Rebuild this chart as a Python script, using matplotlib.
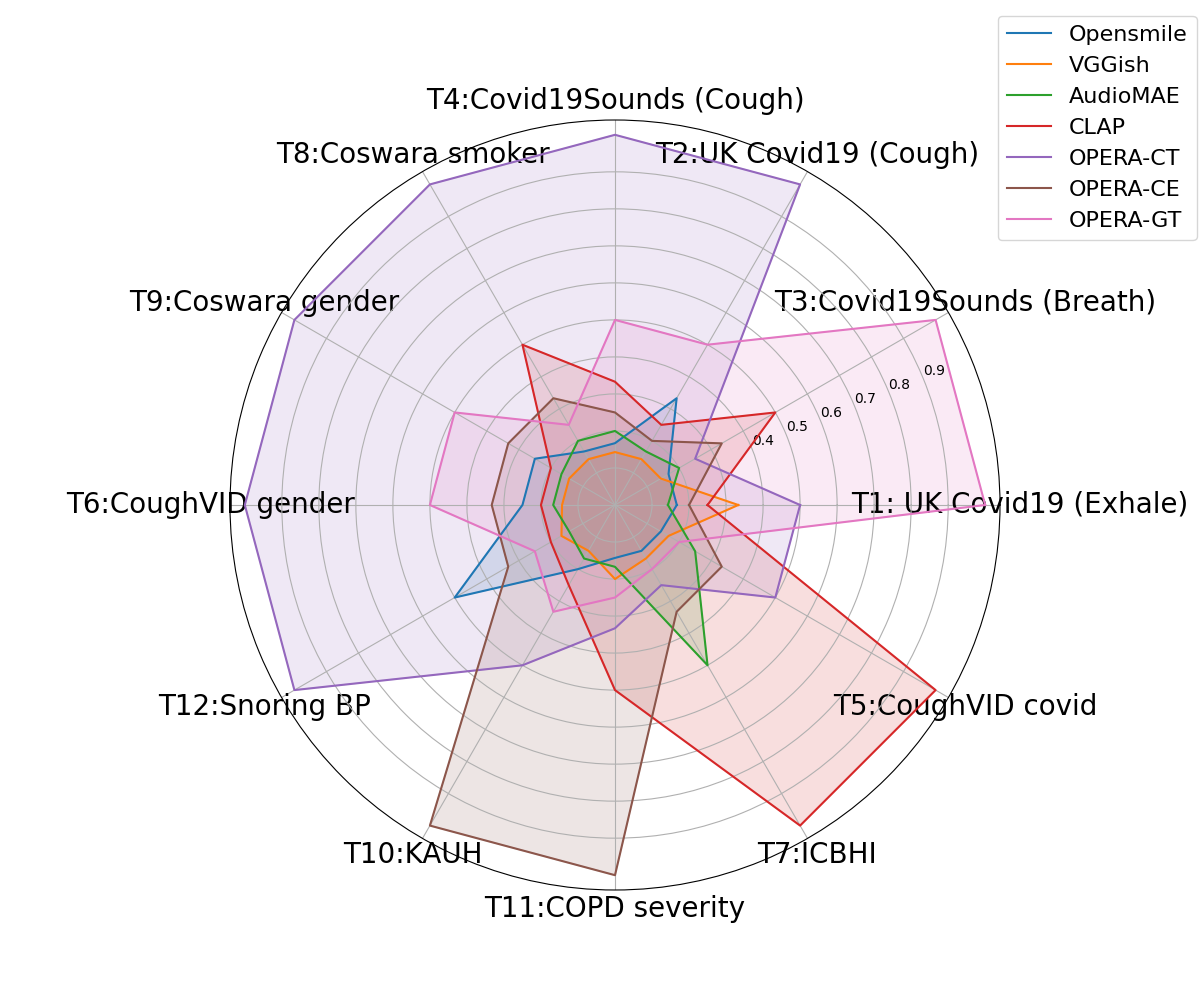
import numpy as np
import matplotlib
matplotlib.use('Agg')
import matplotlib.pyplot as plt

# tasks in the order they go round the chart (counter-clockwise from 0 deg)
tasks = ['T1: UK Covid19 (Exhale)', 'T3:Covid19Sounds (Breath)', 'T2:UK Covid19 (Cough)',
         'T4:Covid19Sounds (Cough)', 'T8:Coswara smoker', 'T9:Coswara gender',
         'T6:CoughVID gender', 'T12:Snoring BP', 'T10:KAUH', 'T11:COPD severity',
         'T7:ICBHI', 'T5:CoughVID covid']

# reciprocal rank of each model per task
opensmile = [0.167, 0.167, 0.333, 0.167, 0.167, 0.25, 0.25, 0.5, 0.2, 0.143, 0.143, 0.143]
vggish = [0.333, 0.143, 0.143, 0.143, 0.143, 0.143, 0.143, 0.167, 0.143, 0.2, 0.167, 0.167]
audiomae = [0.143, 0.2, 0.167, 0.2, 0.2, 0.167, 0.167, 0.143, 0.167, 0.167, 0.5, 0.25]
clap = [0.25, 0.5, 0.25, 0.333, 0.5, 0.2, 0.2, 0.2, 0.25, 0.5, 1.0, 1.0]
opera_ct = [0.5, 0.25, 1.0, 1.0, 1.0, 1.0, 1.0, 1.0, 0.5, 0.333, 0.25, 0.5]
opera_ce = [0.2, 0.333, 0.2, 0.25, 0.333, 0.333, 0.333, 0.333, 1.0, 1.0, 0.333, 0.333]
opera_gt = [1.0, 1.0, 0.5, 0.5, 0.25, 0.5, 0.5, 0.25, 0.333, 0.25, 0.2, 0.2]

models = ['Opensmile', 'VGGish', 'AudioMAE', 'CLAP', 'OPERA-CT', 'OPERA-CE', 'OPERA-GT']
scores = [opensmile, vggish, audiomae, clap, opera_ct, opera_ce, opera_gt]

angles = np.linspace(0, 2 * np.pi, len(tasks), endpoint=False).tolist()
angles += angles[:1]

fig = plt.figure(figsize=(12, 10))
ax = fig.add_subplot(111, polar=True)

for name, vals in zip(models, scores):
    v = vals + vals[:1]
    line, = ax.plot(angles, v, linewidth=1.5, label=name)
    ax.fill(angles, v, color=line.get_color(), alpha=0.15)

ax.set_xticks(angles[:-1])
ax.set_xticklabels(tasks, fontsize=20)
ax.set_yticks(np.arange(0.1, 1.0, 0.1))
ax.set_yticklabels(['', '', '', '0.4', '0.5', '0.6', '0.7', '0.8', '0.9'], fontsize=10)
ax.set_ylim(0, 1.04)

plt.legend(loc='upper right', bbox_to_anchor=(1.27, 1.15), fontsize=16)
plt.savefig('out.png')
